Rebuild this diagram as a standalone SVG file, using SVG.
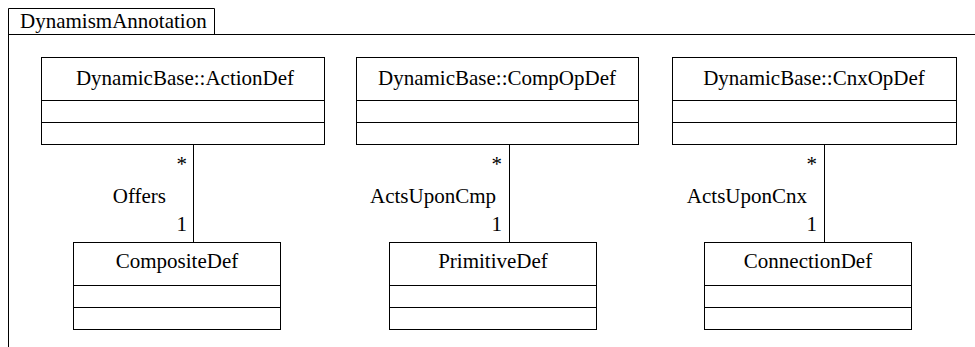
<svg xmlns="http://www.w3.org/2000/svg" width="975" height="347" viewBox="0 0 975 347">
<style>
  .ln{stroke:#000;stroke-width:1;fill:none}
  .bx{stroke:#000;stroke-width:1;fill:#fff}
  .c{text-anchor:middle}
  .e{text-anchor:end}
  text{font-family:'Liberation Serif','Times New Roman',Times,'DejaVu Serif','Noto Serif',serif;font-size:21px;fill:#000}
</style>
<rect width="975" height="347" fill="#fff"/>
<g id="frame">
  <path class="ln" d="M8.5,347 V8.5 H214.5 V34.5 M8.5,34.5 H975"/>
  <text x="20" y="28">DynamismAnnotation</text>
</g>
<g id="connectors">
  <line class="ln" x1="193.5" y1="144" x2="193.5" y2="242"/>
  <text class="e" x="187" y="171">*</text>
  <text class="e" x="166" y="203">Offers</text>
  <text class="e" x="187" y="231">1</text>
  <line class="ln" x1="509.5" y1="144" x2="509.5" y2="242"/>
  <text class="e" x="502" y="171">*</text>
  <text class="e" x="496" y="203">ActsUponCmp</text>
  <text class="e" x="502" y="231">1</text>
  <line class="ln" x1="824.5" y1="144" x2="824.5" y2="242"/>
  <text class="e" x="817" y="171">*</text>
  <text class="e" x="807" y="203">ActsUponCnx</text>
  <text class="e" x="817" y="231">1</text>
</g>
<g id="ActionDef">
  <rect class="bx" x="41.5" y="57.5" width="283" height="87"/>
  <path class="ln" d="M41.5,100.5 H324.5 M41.5,122.5 H324.5"/>
  <text class="c" x="185" y="85">DynamicBase::ActionDef</text>
</g>
<g id="CompOpDef">
  <rect class="bx" x="356.5" y="57.5" width="282" height="87"/>
  <path class="ln" d="M356.5,100.5 H638.5 M356.5,122.5 H638.5"/>
  <text class="c" x="497" y="85">DynamicBase::CompOpDef</text>
</g>
<g id="CnxOpDef">
  <rect class="bx" x="672.5" y="57.5" width="284" height="87"/>
  <path class="ln" d="M672.5,100.5 H956.5 M672.5,122.5 H956.5"/>
  <text class="c" x="814" y="85">DynamicBase::CnxOpDef</text>
</g>
<g id="CompositeDef">
  <rect class="bx" x="73.5" y="242.5" width="207" height="87"/>
  <path class="ln" d="M73.5,285.5 H280.5 M73.5,307.5 H280.5"/>
  <text class="c" x="177" y="268">CompositeDef</text>
</g>
<g id="PrimitiveDef">
  <rect class="bx" x="389.5" y="242.5" width="207" height="87"/>
  <path class="ln" d="M389.5,285.5 H596.5 M389.5,307.5 H596.5"/>
  <text class="c" x="493" y="268">PrimitiveDef</text>
</g>
<g id="ConnectionDef">
  <rect class="bx" x="704.5" y="242.5" width="207" height="87"/>
  <path class="ln" d="M704.5,285.5 H911.5 M704.5,307.5 H911.5"/>
  <text class="c" x="808" y="268">ConnectionDef</text>
</g>
</svg>
